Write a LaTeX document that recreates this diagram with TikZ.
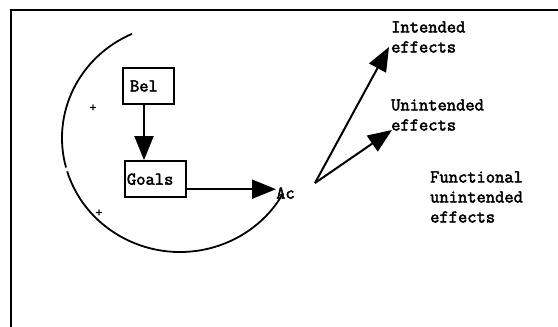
\documentclass[tikz,border=0pt]{standalone}
\usepackage{fontspec}
\setmonofont{Latin Modern Mono}[AutoFakeBold=2.5]
\usetikzlibrary{arrows.meta, positioning}

\begin{document}
\begin{tikzpicture}[x=1pt, y=1pt,
      node distance=55pt,
      box/.style={draw, line width=2.2pt, minimum height=36pt, inner ysep=0pt,
                  align=left, font=\ttfamily\bfseries\fontsize{18}{20}\selectfont},
      lbl/.style={anchor=west, inner sep=0pt, align=left,
                  font=\ttfamily\bfseries\fontsize{18}{20}\selectfont},
      sign/.style={inner sep=0pt, font=\ttfamily\bfseries\fontsize{13}{13}\selectfont},
      loop/.style={line width=1.8pt},
      ar/.style={-{Triangle[length=24pt, width=19pt]}, line width=2pt}]

    \useasboundingbox (0,0) rectangle (558,327);
    \draw[line width=2.5pt] (11,0) -- (11,317) -- (558,317);

    \coordinate (c) at (180,189);
    \draw[loop] ([shift={(114:118pt and 114pt)}]c)
      arc[start angle=114, end angle=195, x radius=118pt, y radius=114pt];
    \draw[loop] ([shift={(197:118pt and 114pt)}]c)
      arc[start angle=197, end angle=331, x radius=118pt, y radius=114pt];

    \node[box, inner xsep=7pt, text width=37pt] (bel) at (148.5,241) {Bel};
    \node[box, inner xsep=2pt, text width=57pt, below=of bel, xshift=7pt] (goals) {Goals};
    \node[lbl] (act) at (276,134) {Ac};

    \node[sign] (p1) at (93,219) {+};
    \node[sign] (p2) at (99,114) {+};

    \coordinate (src) at (315,144);
    \node[lbl] (int) at (391,290) {Intended\\effects};
    \node[lbl] (unint) at (391,212) {Unintended\\effects};
    \node[lbl] (func) at (430,130) {Functional\\unintended\\effects};

    \draw[ar] ([xshift=-4.5pt]bel.south) -- ([xshift=-4.5pt]bel.south |- goals.north);
    \draw[ar] ([yshift=-10pt]goals.east) -- ([yshift=-10pt]goals.east -| act.west);
    \draw[ar] (src) -- ([shift={(-2pt,-10pt)}]int.west);
    \draw[ar] (src) -- ([shift={(1pt,-15pt)}]unint.west);
  \end{tikzpicture}
\end{document}
